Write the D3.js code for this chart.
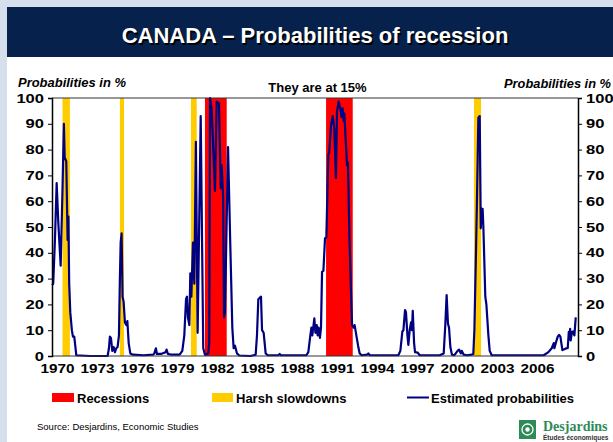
<!DOCTYPE html>
<html><head><meta charset="utf-8">
<script src="https://cdn.jsdelivr.net/npm/d3@7"></script>
<style>
html,body{margin:0;padding:0;background:#d5e0ec;}
svg{display:block;}
</style></head>
<body>
<svg id="c" width="613" height="442"></svg>
<script>
const years = [1969.63,1969.72,1969.85,1969.98,1970.1,1970.28,1970.42,1970.52,1970.58,1970.7,1970.8,1970.86,1970.92,1971.0,1971.12,1971.2,1971.3,1971.45,1972.5,1973.8,1973.9,1973.97,1974.05,1974.15,1974.25,1974.35,1974.45,1974.55,1974.65,1974.72,1974.78,1974.85,1974.92,1975.0,1975.1,1975.2,1975.28,1975.38,1975.5,1975.7,1976.5,1977.2,1977.3,1977.42,1977.5,1977.8,1978.0,1978.15,1978.22,1978.32,1978.6,1979.2,1979.4,1979.55,1979.68,1979.75,1979.82,1979.93,1980.0,1980.08,1980.2,1980.3,1980.42,1980.55,1980.78,1980.97,1981.1,1981.35,1981.42,1981.48,1981.6,1981.85,1981.98,1982.15,1982.28,1982.35,1982.46,1982.53,1982.6,1982.83,1982.98,1983.15,1983.25,1983.35,1983.5,1983.67,1984.5,1984.9,1985.0,1985.1,1985.3,1985.38,1985.5,1985.65,1985.8,1986.6,1986.7,1986.8,1988.7,1988.85,1989.0,1989.08,1989.15,1989.3,1989.38,1989.48,1989.55,1989.62,1989.72,1989.8,1989.88,1989.98,1990.1,1990.2,1990.35,1990.42,1990.55,1990.68,1990.8,1990.92,1991.0,1991.12,1991.25,1991.33,1991.42,1991.5,1991.55,1991.65,1991.75,1991.82,1991.93,1992.05,1992.13,1992.25,1992.32,1992.45,1992.58,1992.7,1992.85,1993.25,1993.35,1993.45,1994.8,1995.6,1995.75,1995.9,1995.98,1996.1,1996.17,1996.28,1996.35,1996.45,1996.55,1996.62,1996.68,1996.78,1996.85,1997.05,1997.2,1998.7,1999.0,1999.12,1999.22,1999.32,1999.4,1999.5,1999.62,1999.78,1999.9,2000.04,2000.15,2000.28,2000.35,2000.5,2000.75,2001.1,2001.22,2001.3,2001.42,2001.5,2001.6,2001.7,2001.78,2001.85,2001.92,2001.98,2002.12,2002.2,2002.35,2002.45,2002.6,2003.5,2006.5,2006.85,2007.1,2007.25,2007.3,2007.4,2007.55,2007.65,2007.75,2007.9,2008.05,2008.2,2008.3,2008.38,2008.43,2008.48,2008.52,2008.62,2008.7,2008.8,2008.9];
const probs = [27.5,28,45,67,52,35,65,90,77,75.5,45,54,28,17,10,7.5,7.5,0.3,0,0,3,7.5,7,2,3.5,1.5,3,3.5,8,30,44,47.5,23,21,13,12,13.5,5,1,0.5,0.3,0.5,1,3,0.8,0.8,1.2,1.5,2.5,0.8,0.5,0.5,2,8,22,23,15,12,32,23,44,28,83,9,93,3,0.5,1,5,100,96,64,98.6,98,65,74,62,15,17,81,47,11,3,4,1,0.2,0,0.5,8,22,23,10,9,1,0.3,0.3,0.8,0.3,0.3,1.5,8,11,8,14.6,9,12,8,11,7,11,32.7,33,45.6,46,78,79,89.5,93,88,69,94.7,98.6,96,92.7,96,91,94,84,74,75,47,25,12,11,12,8,4,1,0.3,0.5,1,0.3,0.3,0.3,2,9.5,10,17.8,17,8,4.3,10,13,10,17.5,5,1.5,1.3,0.3,0.3,1,12,23.6,12.5,11,3.5,0.5,0.3,1,2,2.5,1,2,0.5,0.3,0.5,0.8,10,40,62,92.4,93,49.5,57,57,49,23,20,8,2,0.3,0.3,0.3,1.5,3,5,3,5,7.5,8.2,7.5,2.3,2.6,3,3,9.4,6.5,10.5,6,9.4,9.5,8,15];
const recessions = [[1981.1,1982.73],[1990.18,1992.18]];
const slowdowns = [[1970.42,1970.97],[1974.72,1975.03],[1980.05,1980.48],[2001.27,2001.8]];
const xTicks = [1970,1973,1976,1979,1982,1985,1988,1991,1994,1997,2000,2003,2006];
const yTicks = [0,10,20,30,40,50,60,70,80,90,100];
const legendItems = ["Recessions","Harsh slowdowns","Estimated probabilities"];

const svg = d3.select("#c");
const F = "'Liberation Sans', Arial, sans-serif";
// page frame
svg.append("rect").attr("x",0).attr("y",0).attr("width",613).attr("height",442).attr("fill","#d5e0ec");
svg.append("rect").attr("x",7).attr("y",7).attr("width",606).attr("height",435).attr("fill","#ffffff");
svg.append("rect").attr("x",7).attr("y",7).attr("width",606).attr("height",50).attr("fill","#06214b");
svg.append("text").attr("x",316.5).attr("y",44.5).attr("text-anchor","middle").attr("font-family",F).attr("font-weight","bold").attr("font-size",22).attr("fill","#000").text("CANADA – Probabilities of recession");
svg.append("text").attr("x",315).attr("y",43).attr("text-anchor","middle").attr("font-family",F).attr("font-weight","bold").attr("font-size",22).attr("fill","#fff").text("CANADA – Probabilities of recession");

const L=52,R=578,T=98,B=356;
const x = d3.scaleLinear().domain([1969.63,2009.07]).range([L,R]);
const y = d3.scaleLinear().domain([0,100]).range([B,T]);

const g = svg.append("g");
g.selectAll("rect.rec").data(recessions).enter().append("rect")
 .attr("x",d=>x(d[0])).attr("width",d=>x(d[1])-x(d[0])).attr("y",y(100)).attr("height",y(0)-y(100)).attr("fill","#ff0000");
g.selectAll("rect.slw").data(slowdowns).enter().append("rect")
 .attr("x",d=>x(d[0])).attr("width",d=>x(d[1])-x(d[0])).attr("y",y(100)).attr("height",y(0)-y(100)).attr("fill","#ffcc00");

const pts = years.map((yr,i)=>[yr,probs[i]]);
g.append("path").datum(pts).attr("fill","none").attr("stroke","#000080").attr("stroke-width",2.2).attr("stroke-linejoin","round")
 .attr("d", d3.line().x(d=>x(d[0])).y(d=>y(d[1])));

// frame lines
g.append("line").attr("x1",L).attr("x2",R).attr("y1",T).attr("y2",T).attr("stroke","#333").attr("stroke-width",1);
g.append("line").attr("x1",L).attr("x2",R).attr("y1",B).attr("y2",B).attr("stroke","#333").attr("stroke-width",1);

// axes
const ax = d3.axisLeft(y).tickValues(yTicks).tickSize(4).tickPadding(4);
const axL = svg.append("g").attr("transform",`translate(${L},0)`).call(ax);
const axR = svg.append("g").attr("transform",`translate(${R},0)`).call(d3.axisRight(y).tickValues(yTicks).tickSize(4).tickPadding(4));
[axL,axR].forEach(a=>{
  a.select(".domain").attr("stroke","#000").attr("stroke-width",1.5);
  a.selectAll(".tick line").attr("stroke","#000");
  a.selectAll("text").attr("font-family",F).attr("font-weight","bold").attr("font-size",12.5).attr("fill","#000")
   .attr("textLength",function(d){return String(d).length*9.2;}).attr("lengthAdjust","spacingAndGlyphs");
});
const axB = svg.append("g").attr("transform",`translate(0,${B})`).call(d3.axisBottom(x).tickValues(xTicks).tickFormat(d3.format("d")).tickSize(0).tickPadding(8));
axB.select(".domain").remove();
axB.selectAll("text").attr("font-family",F).attr("font-weight","bold").attr("font-size",12.5).attr("fill","#000")
  .attr("textLength",34).attr("lengthAdjust","spacingAndGlyphs");

// labels
svg.append("text").attr("x",18).attr("y",86.5).attr("font-family",F).attr("font-weight","bold").attr("font-style","italic").attr("font-size",12).attr("fill","#000")
  .attr("textLength",108).attr("lengthAdjust","spacingAndGlyphs").text("Probabilities in %");
svg.append("text").attr("x",504).attr("y",87.5).attr("font-family",F).attr("font-weight","bold").attr("font-style","italic").attr("font-size",12).attr("fill","#000")
  .attr("textLength",107).attr("lengthAdjust","spacingAndGlyphs").text("Probabilities in %");
svg.append("text").attr("x",317.5).attr("y",91.5).attr("text-anchor","middle").attr("font-family",F).attr("font-weight","bold").attr("font-size",13).attr("fill","#000").text("They are at 15%");

// legend
const lg = svg.append("g");
lg.append("rect").attr("x",52).attr("y",393).attr("width",22).attr("height",9).attr("fill","#ff0000");
lg.append("text").attr("x",77).attr("y",402.5).attr("font-family",F).attr("font-weight","bold").attr("font-size",13).text(legendItems[0]);
lg.append("rect").attr("x",212).attr("y",393).attr("width",21).attr("height",9).attr("fill","#ffcc00");
lg.append("text").attr("x",236).attr("y",402.5).attr("font-family",F).attr("font-weight","bold").attr("font-size",13).text(legendItems[1]);
lg.append("line").attr("x1",407).attr("x2",429).attr("y1",397.5).attr("y2",397.5).attr("stroke","#000080").attr("stroke-width",2);
lg.append("text").attr("x",431).attr("y",402.5).attr("font-family",F).attr("font-weight","bold").attr("font-size",13).text(legendItems[2]);

svg.append("text").attr("x",37).attr("y",430).attr("font-family",F).attr("font-size",9.5).attr("fill","#000").text("Source: Desjardins, Economic Studies");

// logo
const lo = svg.append("g");
lo.append("rect").attr("x",519).attr("y",420).attr("width",17).attr("height",19).attr("fill","#2e8b57");
lo.append("circle").attr("cx",527.5).attr("cy",429.5).attr("r",5.5).attr("fill","none").attr("stroke","#fff").attr("stroke-width",1.3);
lo.append("circle").attr("cx",527.5).attr("cy",429.5).attr("r",2.2).attr("fill","#fff");
lo.append("text").attr("x",543).attr("y",431).attr("font-family","'Liberation Serif', 'DejaVu Serif', serif").attr("font-weight","bold").attr("font-size",14).attr("fill","#2e8b57").text("Desjardins");
lo.append("text").attr("x",543).attr("y",439.5).attr("font-family",F).attr("font-weight","bold").attr("font-size",6.5).attr("fill","#333").text("Études économiques");
</script>
</body></html>
